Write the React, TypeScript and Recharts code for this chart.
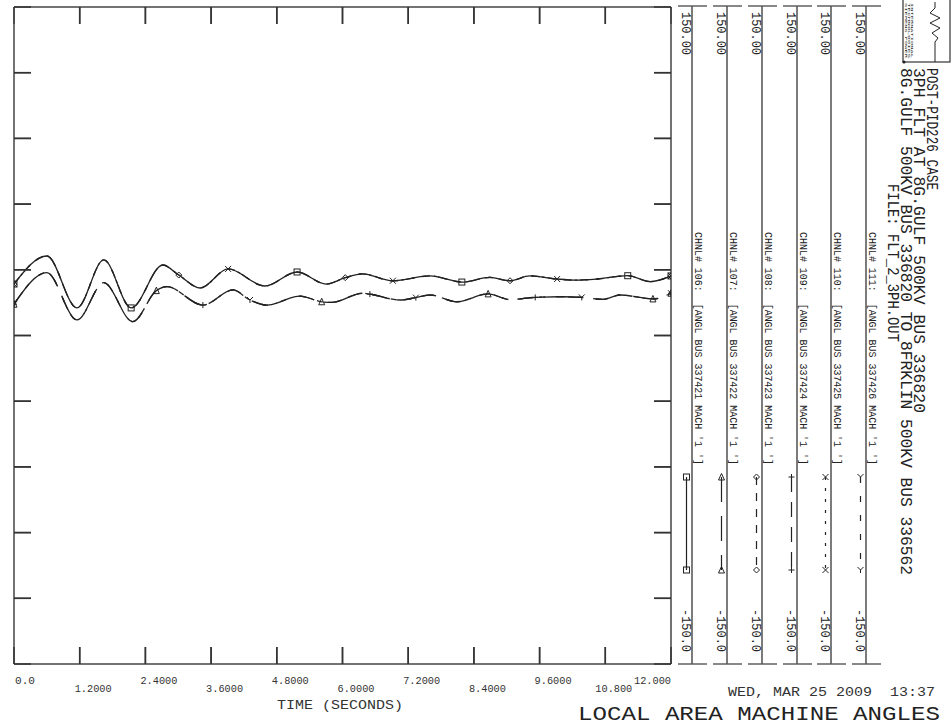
import React from 'react'
import { ComposedChart, Line, XAxis, YAxis } from 'recharts'

const MONO = '"Liberation Mono", "DejaVu Sans Mono", monospace'
const INK = '#222'

const timeTicks = [0, 1.2, 2.4, 3.6, 4.8, 6.0, 7.2, 8.4, 9.6, 10.8, 12.0]
const timeTickLabels = ['0.0', '1.2000', '2.4000', '3.6000', '4.8000', '6.0000', '7.2000', '8.4000', '9.6000', '10.800', '12.000']
const angleTicks = [-150, -120, -90, -60, -30, 0, 30, 60, 90, 120, 150]

// machines 1, 3, 5 swing together (upper trace), 2, 4, 6 the lower one
const upperTime = [0, 0.6, 1.15, 1.64, 2.14, 2.72, 3.01, 3.4, 3.91, 4.58, 5.17, 5.7, 6.05, 6.36, 6.92, 7.6, 8.18, 8.69, 9.06, 9.42, 9.92, 10.25, 10.65, 11.21, 11.62, 12.0]
const upperAngle = [23.5, 36.3, 12.6, 34.5, 12.6, 32.2, 27.6, 21.7, 30.4, 22.6, 29.0, 23.5, 26.4, 28.1, 25.0, 27.2, 24.4, 26.5, 25.0, 27.2, 25.8, 25.3, 25.8, 27.3, 24.6, 27.2]
const lowerTime = [0, 0.6, 1.15, 1.64, 2.17, 2.6, 2.79, 3.45, 4.0, 4.31, 4.62, 5.22, 5.62, 5.8, 6.37, 6.5, 7.05, 7.34, 7.6, 8.09, 8.66, 9.06, 9.52, 10.03, 10.37, 10.76, 11.07, 11.67, 12.0]
const lowerAngle = [14.3, 28.7, 7.1, 24.1, 6.3, 20.5, 22.3, 13.9, 20.8, 16.2, 13.9, 18.0, 15.4, 15.1, 19.3, 18.9, 16.2, 17.3, 18.5, 15.4, 19.0, 16.4, 17.4, 17.7, 17.4, 16.5, 18.5, 16.7, 19.3]

const channelNums = [106, 107, 108, 109, 110, 111]
const channelBus = ['337421', '337422', '337423', '337424', '337425', '337426']
const channelTrace = ['upper', 'lower', 'upper', 'lower', 'upper', 'lower']
const channelMarker = ['square', 'triangle', 'diamond', 'plus', 'cross', 'wye']
const channelDash = ['', '25 14', '8 8', '15 10', '3 8', '6 13']
const channelMarkTimes = [
  [0, 2.14, 5.17, 8.18, 11.21, 12.0],
  [0, 2.6, 5.62, 8.66, 11.67, 12.0],
  [0, 3.01, 6.05, 9.06, 12.0],
  [0, 3.45, 6.5, 9.52, 12.0],
  [0, 3.91, 6.92, 9.92, 12.0],
  [0, 4.31, 7.34, 10.37, 12.0],
]
// frame sides are separate axes with one domain; series alternate so each axis carries data
const channelXAxis = ['time', 'top', 'time', 'top', 'time', 'top']
const channelYAxis = ['left', 'right', 'left', 'right', 'left', 'right']

// plot frame, matches the chart margins below
const PLOT_LEFT = 14
const PLOT_RIGHT = 671
const PLOT_TOP = 7
const PLOT_BOTTOM = 664

const traceRows = (which: string) => {
  const ts = which === 'upper' ? upperTime : lowerTime
  const vs = which === 'upper' ? upperAngle : lowerAngle
  return ts.map((t, i) => ({ t, v: vs[i] }))
}

const markRows = (ch: number) => {
  const rows = traceRows(channelTrace[ch])
  return channelMarkTimes[ch].map((t) => rows.find((r) => r.t === t)!)
}

function Marker({ kind, cx, cy }: { kind: string; cx: number; cy: number }) {
  const s = 3
  const p = { stroke: INK, strokeWidth: 1, fill: 'none' }
  if (kind === 'square') return <rect x={cx - s} y={cy - s} width={2 * s} height={2 * s} {...p} />
  if (kind === 'triangle') return <path d={`M${cx},${cy - s - 0.5} L${cx + s},${cy + s} L${cx - s},${cy + s} Z`} {...p} />
  if (kind === 'diamond') return <path d={`M${cx},${cy - s} L${cx + s},${cy} L${cx},${cy + s} L${cx - s},${cy} Z`} {...p} />
  if (kind === 'plus') return <path d={`M${cx - s},${cy} H${cx + s} M${cx},${cy - s} V${cy + s}`} {...p} />
  if (kind === 'cross') return <path d={`M${cx - s},${cy - s} L${cx + s},${cy + s} M${cx + s},${cy - s} L${cx - s},${cy + s}`} {...p} />
  return <path d={`M${cx - s},${cy - s} L${cx},${cy} L${cx + s},${cy - s} M${cx},${cy} V${cy + s}`} {...p} />
}

// two staggered rows of time labels under the frame
function TimeLabel(props: any) {
  const { x, y, index } = props
  const label = timeTickLabels[index]
  const second = index % 2 === 1
  let tx = x - 5
  let anchor: 'start' | 'end' = 'start'
  if (index === 0) tx = x + 1
  if (index === timeTicks.length - 1) { tx = x; anchor = 'end' }
  if (index === 9) tx = x - 10
  return (
    <g>
      <line x1={x} y1={y} x2={x} y2={y - 17} stroke="#333" strokeWidth={1.5} />
      <text x={tx} y={second ? y + 28 : y + 20} fontSize={10} fontFamily={MONO} fill="#333" textAnchor={anchor}
        textLength={label.length > 3 ? 37 : 20} lengthAdjust="spacingAndGlyphs">
        {label}
      </text>
    </g>
  )
}

const NoLabel = () => null

function VText({ x, y, size, len, children }: { x: number; y: number; size: number; len?: number; children: string }) {
  return (
    <text transform={`translate(${x},${y}) rotate(90)`} fontSize={size} fontFamily={MONO} fill={INK}
      textLength={len} lengthAdjust={len ? 'spacingAndGlyphs' : undefined} style={{ whiteSpace: 'pre' }}>
      {children}
    </text>
  )
}

const columnX = [692, 727, 762, 797, 831, 866]

// inward frame ticks on top, bottom and right edges
function FrameTicks() {
  const w = PLOT_RIGHT - PLOT_LEFT
  const h = PLOT_BOTTOM - PLOT_TOP
  return (
    <g stroke="#333" strokeWidth={1.5}>
      {timeTicks.slice(1, -1).map((t) => {
        const x = PLOT_LEFT + (t / 12) * w
        return (
          <g key={`x${t}`}>
            <line x1={x} y1={PLOT_TOP} x2={x} y2={PLOT_TOP + 17} />
            <line x1={x} y1={PLOT_BOTTOM} x2={x} y2={PLOT_BOTTOM - 17} />
          </g>
        )
      })}
      {angleTicks.slice(1, -1).map((a) => {
        const y = PLOT_TOP + ((150 - a) / 300) * h
        return (
          <g key={`y${a}`}>
            <line x1={PLOT_LEFT} y1={y} x2={PLOT_LEFT + 17} y2={y} />
            <line x1={PLOT_RIGHT} y1={y} x2={PLOT_RIGHT - 17} y2={y} />
          </g>
        )
      })}
    </g>
  )
}

function RightPanel() {
  return (
    <svg width={951} height={726} style={{ position: 'absolute', left: 0, top: 0, pointerEvents: 'none' }}>
      <FrameTicks />
      {columnX.map((cx, i) => (
        <g key={i}>
          <line x1={cx} y1={6} x2={cx} y2={664} stroke="#444" strokeWidth={1.4} />
          <line x1={cx - 14} y1={6} x2={cx + 15} y2={6} stroke="#555" strokeWidth={1.4} />
          <line x1={cx - 14} y1={664} x2={cx + 15} y2={664} stroke="#555" strokeWidth={1.4} />
          <VText x={cx - 10.5} y={12} size={12} len={43}>150.00</VText>
          <VText x={cx - 10.5} y={609} size={12} len={43}>-150.0</VText>
          <VText x={cx + 3} y={232} size={11.5} len={233}>{`CHNL# ${channelNums[i]}:  [ANGL BUS ${channelBus[i]} MACH '1 ']`}</VText>
          <line x1={cx - 5.5} y1={477} x2={cx - 5.5} y2={570} stroke={INK} strokeWidth={1.2}
            strokeDasharray={channelDash[i] || undefined} />
          <Marker kind={channelMarker[i]} cx={cx - 5.5} cy={477} />
          <Marker kind={channelMarker[i]} cx={cx - 5.5} cy={570} />
        </g>
      ))}
      <VText x={927} y={68} size={16} len={122}>POST-PID226 CASE</VText>
      <VText x={914} y={68} size={16} len={345}>3PH FLT AT 8G.GULF 500KV BUS 336820</VText>
      <VText x={901} y={68} size={16} len={507}>8G.GULF 500KV BUS 336820 TO 8FRKLIN 500KV BUS 336562</VText>
      <VText x={888} y={184} size={16} len={158}>FILE: FLT_2_3PH.OUT</VText>
      <rect x={903} y={-1} width={47} height={63} fill="none" stroke="#333" strokeWidth={1.2} />
      <VText x={905} y={3} size={4} len={55}>SIEMENS POWER</VText>
      <VText x={908} y={3} size={4} len={55}>TECHNOLOGIES</VText>
      <VText x={911} y={3} size={4} len={55}>INTERNATIONAL</VText>
      <path d="M935,2 V8 L930,13 L940,18 L930,23 L940,28 L932,33 L938,38 L935,42 V62" fill="none" stroke={INK} strokeWidth={1} />
      <circle cx={904} cy={62} r={1.6} fill={INK} />
      <text x={277} y={709} fontSize={13} fontFamily={MONO} fill="#333" textLength={126} lengthAdjust="spacingAndGlyphs" style={{ whiteSpace: 'pre' }}>TIME (SECONDS)</text>
      <text x={728} y={696} fontSize={13} fontFamily={MONO} fill="#333" textLength={207} lengthAdjust="spacingAndGlyphs" style={{ whiteSpace: 'pre' }}>WED, MAR 25 2009  13:37</text>
      <text x={578} y={720} fontSize={20} fontFamily={MONO} fill="#222" textLength={362} lengthAdjust="spacingAndGlyphs">LOCAL AREA MACHINE ANGLES</text>
    </svg>
  )
}

export default function App() {
  return (
    <div style={{ position: 'absolute', left: 0, top: 0, width: 951, height: 726, background: '#fff' }}>
      <div style={{ position: 'absolute', left: 0, top: 0 }}>
        <ComposedChart width={951} height={726} margin={{ top: PLOT_TOP, right: 951 - PLOT_RIGHT, bottom: 0, left: PLOT_LEFT }}>
          <XAxis xAxisId="time" dataKey="t" type="number" domain={[0, 12]} ticks={timeTicks} height={726 - PLOT_BOTTOM}
            axisLine={{ stroke: '#444', strokeWidth: 1.5 }} tickLine={false} tickSize={0} tickMargin={0}
            tick={<TimeLabel />} interval={0} allowDataOverflow />
          <XAxis xAxisId="top" orientation="top" mirror dataKey="t" type="number" domain={[0, 12]} ticks={timeTicks}
            axisLine={{ stroke: '#444', strokeWidth: 1.5 }} tickLine={{ stroke: '#333', strokeWidth: 1.5 }} tickSize={17}
            tick={<NoLabel />} interval={0} allowDataOverflow />
          <YAxis yAxisId="left" dataKey="v" type="number" domain={[-150, 150]} ticks={angleTicks} mirror
            axisLine={{ stroke: '#444', strokeWidth: 1.5 }} tickLine={{ stroke: '#333', strokeWidth: 1.5 }} tickSize={17}
            tick={<NoLabel />} interval={0} allowDataOverflow />
          <YAxis yAxisId="right" orientation="right" mirror dataKey="v" type="number" domain={[-150, 150]} ticks={angleTicks}
            axisLine={{ stroke: '#444', strokeWidth: 1.5 }} tickLine={{ stroke: '#333', strokeWidth: 1.5 }} tickSize={17}
            tick={<NoLabel />} interval={0} allowDataOverflow />
          {channelNums.map((n, i) => (
            <Line key={`l${n}`} xAxisId={channelXAxis[i]} yAxisId={channelYAxis[i]} data={traceRows(channelTrace[i])}
              dataKey="v" type="monotone" stroke={INK} strokeWidth={1.3} strokeDasharray={channelDash[i] || undefined}
              dot={false} activeDot={false} isAnimationActive={false} />
          ))}
          {channelNums.map((n, i) => (
            <Line key={`m${n}`} xAxisId={channelXAxis[i]} yAxisId={channelYAxis[i]} data={markRows(i)} dataKey="v"
              stroke="none" activeDot={false} isAnimationActive={false}
              dot={(p: any) => <Marker key={`d${n}-${p.index}`} kind={channelMarker[i]} cx={p.cx} cy={p.cy} />} />
          ))}
        </ComposedChart>
      </div>
      <RightPanel />
    </div>
  )
}
